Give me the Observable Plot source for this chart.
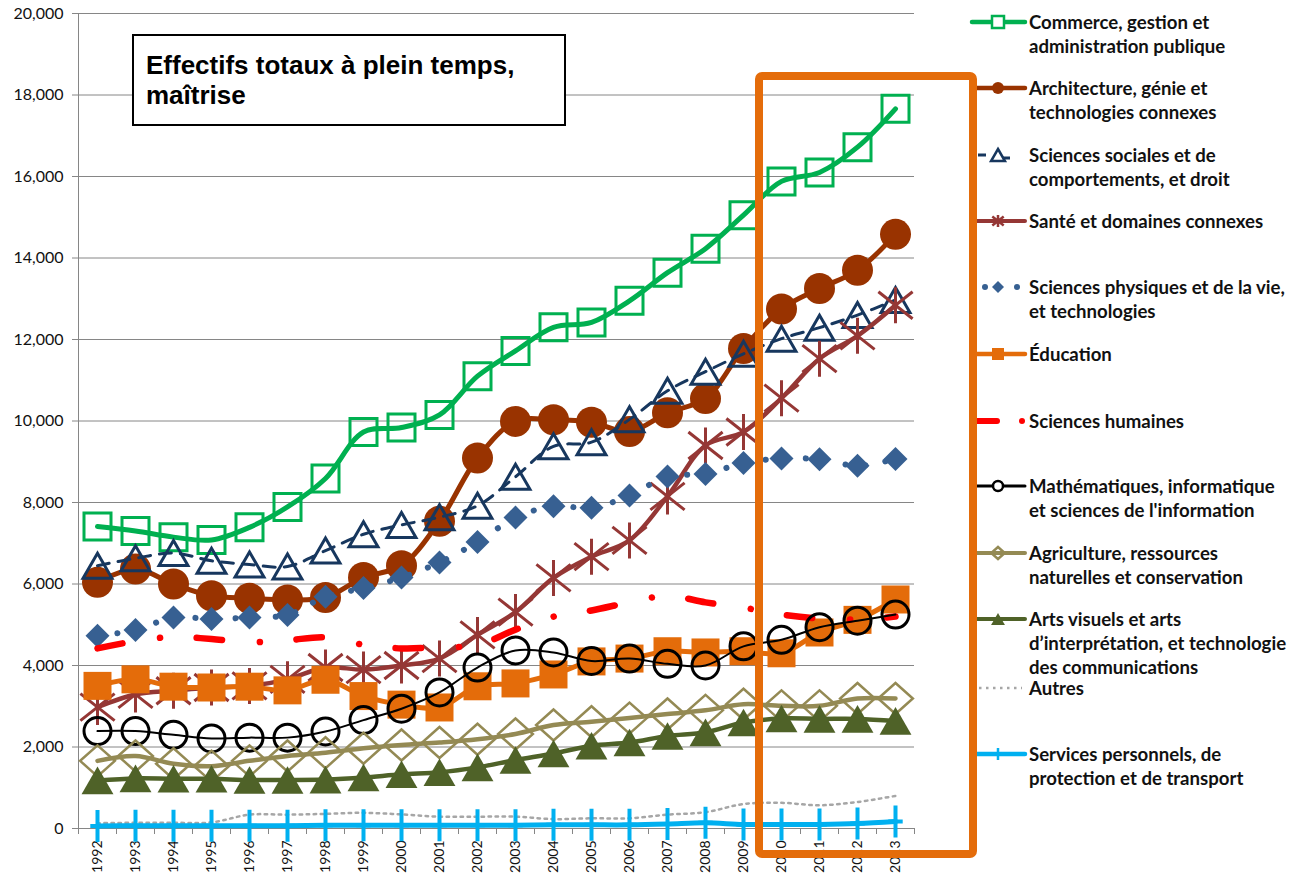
<!DOCTYPE html>
<html><head><meta charset="utf-8">
<script src="https://cdn.jsdelivr.net/npm/d3@7"></script>
<script src="https://cdn.jsdelivr.net/npm/@observablehq/plot@0.6"></script>
<style>
body{margin:0;background:#fff;}
#wrap{position:relative;width:1302px;height:877px;overflow:hidden;background:#fff;}
#title{position:absolute;left:132px;top:34px;width:434px;height:92px;box-sizing:border-box;border:2px solid #000;background:#fff;font:bold 26px "Liberation Sans",Arial,sans-serif;padding:14px 0 0 12px;line-height:30px;color:#000;}
#box{position:absolute;left:755px;top:72px;width:222px;height:786px;box-sizing:border-box;border:8px solid #E46C0A;border-radius:7px;}
#legend{position:absolute;left:0;top:0;pointer-events:none;}
</style></head><body><div id="wrap"></div>
<script>
// ---------- data ----------
const years = d3.range(1992, 2014);
const yTicks = d3.range(0, 20001, 2000);

const commerce     = [7410, 7300, 7150, 7080, 7390, 7890, 8590, 9730, 9840, 10150, 11100, 11720, 12300, 12420, 12950, 13640, 14230, 15050, 15880, 16100, 16720, 17660];
const architecture = [6040, 6370, 6000, 5710, 5650, 5610, 5670, 6160, 6450, 7540, 9090, 9990, 10030, 9970, 9740, 10200, 10550, 11780, 12750, 13250, 13700, 14580];
const sociales     = [6450, 6630, 6760, 6570, 6480, 6430, 6820, 7220, 7450, 7640, 7920, 8630, 9380, 9480, 10040, 10740, 11210, 11650, 12020, 12290, 12600, 12970];
const sante        = [2980, 3290, 3380, 3460, 3500, 3660, 3950, 3900, 4000, 4170, 4750, 5310, 6150, 6670, 7070, 8150, 9400, 9730, 10560, 11530, 12090, 12840];
const physiques    = [4730, 4870, 5180, 5140, 5180, 5240, 5690, 5900, 6160, 6530, 7030, 7630, 7910, 7870, 8170, 8640, 8700, 8970, 9080, 9060, 8900, 9070];
const education    = [3500, 3660, 3480, 3460, 3480, 3390, 3650, 3250, 3040, 2970, 3490, 3560, 3780, 4100, 4170, 4350, 4320, 4350, 4300, 4810, 5120, 5620];
const humaines     = [4420, 4600, 4700, 4650, 4570, 4620, 4690, 4510, 4420, 4450, 4500, 4880, 5200, 5350, 5550, 5710, 5550, 5420, 5250, 5150, 5130, 5200];
const maths        = [2390, 2390, 2300, 2210, 2230, 2230, 2380, 2660, 2940, 3340, 3950, 4370, 4320, 4110, 4170, 4040, 4000, 4470, 4630, 4940, 5100, 5250];
const agriculture  = [1660, 1780, 1590, 1530, 1660, 1780, 1860, 1970, 2050, 2110, 2190, 2320, 2540, 2620, 2710, 2810, 2900, 3050, 3010, 3010, 3190, 3190];
const arts         = [1180, 1230, 1220, 1220, 1190, 1190, 1200, 1250, 1330, 1380, 1500, 1680, 1840, 2030, 2110, 2270, 2360, 2600, 2700, 2690, 2690, 2640];
const autres       = [130, 140, 140, 150, 340, 340, 360, 385, 345, 290, 290, 290, 230, 250, 250, 340, 400, 600, 630, 570, 650, 800];
const services     = [60, 70, 70, 70, 70, 70, 80, 80, 80, 80, 80, 80, 90, 90, 90, 110, 140, 100, 100, 100, 120, 170];

const seriesKeys = ["commerce","architecture","sociales","sante","physiques","education","humaines","maths","agriculture","arts","autres","services"];
const seriesValues = {commerce, architecture, sociales, sante, physiques, education, humaines, maths, agriculture, arts, autres, services};
const legendLabels = {
  commerce: ["Commerce, gestion et", "administration publique"],
  architecture: ["Architecture, génie et", "technologies connexes"],
  sociales: ["Sciences sociales et de", "comportements, et droit"],
  sante: ["Santé et domaines connexes"],
  physiques: ["Sciences physiques et de la vie,", "et technologies"],
  education: ["Éducation"],
  humaines: ["Sciences humaines"],
  maths: ["Mathématiques, informatique", "et sciences de l'information"],
  agriculture: ["Agriculture, ressources", "naturelles et conservation"],
  arts: ["Arts visuels et arts", "d’interprétation, et technologie", "des communications"],
  autres: ["Autres"],
  services: ["Services personnels, de", "protection et de transport"]
};
const titleLines = ["Effectifs totaux à plein temps,", "maîtrise"];

// ---------- symbols ----------
function sym(f){ return {draw(c, size){ const r = Math.sqrt(size / Math.PI); f(c, r); }}; }
const SYM = {
  square: sym((c,r)=>{ c.moveTo(-r,-r); c.lineTo(r,-r); c.lineTo(r,r); c.lineTo(-r,r); c.closePath(); }),
  circle: sym((c,r)=>{ c.moveTo(r,0); c.arc(0,0,r,0,2*Math.PI); }),
  triangle: sym((c,r)=>{ const w=r*1.155; c.moveTo(0,-r); c.lineTo(w,r); c.lineTo(-w,r); c.closePath(); }),
  diamond: sym((c,r)=>{ c.moveTo(0,-r); c.lineTo(r,0); c.lineTo(0,r); c.lineTo(-r,0); c.closePath(); }),
  wdiamond: sym((c,r)=>{ const w=r*1.12; c.moveTo(0,-r); c.lineTo(w,0); c.lineTo(0,r); c.lineTo(-w,0); c.closePath(); }),
  star: sym((c,r)=>{ c.moveTo(0,-r); c.lineTo(0,r); const a=r*0.95,b=r*0.75; c.moveTo(-a,-b); c.lineTo(a,b); c.moveTo(-a,b); c.lineTo(a,-b); }),
  plus: sym((c,r)=>{ c.moveTo(0,-r); c.lineTo(0,r); c.moveTo(-r*0.45,0); c.lineTo(r*0.45,0); })
};

// ---------- styles ----------
const styles = {
  commerce:     {color:"#00B050", lw:5,   sym:"square",   r:13.5, filled:false, sw:3},
  architecture: {color:"#993300", lw:5,   sym:"circle",   r:15.5, filled:true},
  sociales:     {color:"#17375E", lw:3,   dash:"12,9", sym:"triangle", r:12.5, filled:false, sw:3},
  sante:        {color:"#953735", lw:4.5, sym:"star",     r:18,   filled:false, sw:3},
  physiques:    {color:"#376092", lw:6,   dash:"0.1,20", cap:"round", sym:"diamond", r:12, filled:true},
  education:    {color:"#E46C0A", lw:5,   sym:"square",   r:14,   filled:true},
  humaines:     {color:"#FF0000", lw:6.5, dash:"25.5,37.9,0.1,36.6", cap:"round"},
  maths:        {color:"#000000", lw:2,   sym:"circle",   r:13.5, filled:false, sw:3},
  agriculture:  {color:"#948A54", lw:4.5, sym:"wdiamond", r:15.5, filled:false, sw:2.5},
  arts:         {color:"#4F6228", lw:4.5, sym:"triangle", r:13.8, filled:true},
  autres:       {color:"#A6A6A6", lw:2.5, dash:"2.5,4.5"},
  services:     {color:"#00B0F0", lw:5,   sym:"plus",     r:16,   filled:false, sw:4}
};

// ---------- plot ----------
const gray = "#868686";
const marks = [
  Plot.gridY(yTicks.filter(d => d > 0), {stroke: gray, strokeOpacity: 1}),
  Plot.axisX(d3.range(1991.5, 2014, 1), {tickSize: 6, tickFormat: () => "", stroke: gray, label: null}),
  Plot.axisX(years, {tickSize: 0, tickPadding: 12, tickRotate: -90, tickFormat: d => String(d), fontSize: 14, fill: "#111", label: null}),
  Plot.axisY(yTicks, {tickSize: 6, tickPadding: 9, tickFormat: d3.format(","), fontSize: 16, stroke: gray, fill: "#111", label: null}),
  Plot.ruleX([1991.5], {stroke: gray}),
  Plot.ruleY([0], {stroke: gray})
];
for (const k of seriesKeys) {
  const s = styles[k];
  const rows = years.map((year, i) => ({year, value: seriesValues[k][i]}));
  marks.push(Plot.line(rows, {x: "year", y: "value", stroke: s.color, strokeWidth: s.lw,
    strokeDasharray: s.dash, strokeLinecap: s.cap || "round", strokeLinejoin: "round", curve: "catmull-rom"}));
  if (s.sym) {
    marks.push(Plot.dot(rows, {x: "year", y: "value", symbol: SYM[s.sym], r: s.r,
      fill: s.filled ? s.color : "none", stroke: s.filled ? "none" : s.color, strokeWidth: s.sw || 0}));
  }
}

const chart = Plot.plot({
  width: 1302, height: 877,
  marginLeft: 78, marginRight: 388, marginTop: 13, marginBottom: 49,
  x: {domain: [1991.5, 2013.5], label: null},
  y: {domain: [0, 20000], label: null},
  style: {fontFamily: "Lato, 'Open Sans', sans-serif", fontSize: "15px", background: "#fff", color: "#111"},
  marks
});

const wrap = document.getElementById("wrap");
wrap.appendChild(chart);

// title box
const t = document.createElement("div");
t.id = "title";
t.innerHTML = titleLines.join("<br>");
wrap.appendChild(t);

// legend
const lg = d3.select(wrap).append("svg").attr("id","legend").attr("width",1302).attr("height",877);
const legendY = {commerce:22, architecture:88, sociales:155, sante:221, physiques:287, education:354, humaines:421, maths:486, agriculture:553, arts:619, autres:688, services:754};
for (const k of seriesKeys) {
  const s = styles[k], y = legendY[k];
  const g = lg.append("g");
  if (k === "humaines") {
    g.append("line").attr("x1",976).attr("x2",997).attr("y1",y).attr("y2",y).attr("stroke",s.color).attr("stroke-width",6).attr("stroke-linecap","round");
    g.append("circle").attr("cx",1022).attr("cy",y).attr("r",3).attr("fill",s.color);
  } else if (k === "physiques") {
    for (const cx of [985, 1017]) g.append("circle").attr("cx",cx).attr("cy",y).attr("r",3).attr("fill",s.color);
  } else if (k === "sociales") {
    g.append("line").attr("x1",978).attr("x2",986).attr("y1",y).attr("y2",y).attr("stroke",s.color).attr("stroke-width",3);
    g.append("line").attr("x1",1002).attr("x2",1010).attr("y1",y+3).attr("y2",y+3).attr("stroke",s.color).attr("stroke-width",3);
  } else if (k === "autres") {
    g.append("line").attr("x1",979).attr("x2",1022).attr("y1",y).attr("y2",y).attr("stroke",s.color).attr("stroke-width",2.5).attr("stroke-dasharray","2.5,4.5");
  } else {
    g.append("line").attr("x1",972).attr("x2",1025).attr("y1",y).attr("y2",y).attr("stroke",s.color).attr("stroke-width",Math.max(3,s.lw-0.5)).attr("stroke-linecap","round");
  }
  if (s.sym) {
    const rr = k === "maths" ? 5 : 6;
    g.append("path").attr("transform",`translate(998,${y})`)
      .attr("d", d3.symbol(SYM[s.sym], Math.PI*rr*rr)())
      .attr("fill", s.filled ? s.color : (k==="maths"||k==="commerce"||k==="sociales" ? "#fff" : "none"))
      .attr("stroke", s.filled ? "none" : s.color).attr("stroke-width", s.filled ? 0 : 2.5);
  }
  legendLabels[k].forEach((line, i) => {
    g.append("text").attr("x",1029).attr("y", y + i*24).attr("dy","0.35em")
      .attr("font-family","Lato, 'Open Sans', sans-serif").attr("font-weight","700").attr("font-size","18.6px")
      .attr("fill","#111").text(line);
  });
}

// highlight box
const b = document.createElement("div");
b.id = "box";
wrap.appendChild(b);
</script></body></html>
